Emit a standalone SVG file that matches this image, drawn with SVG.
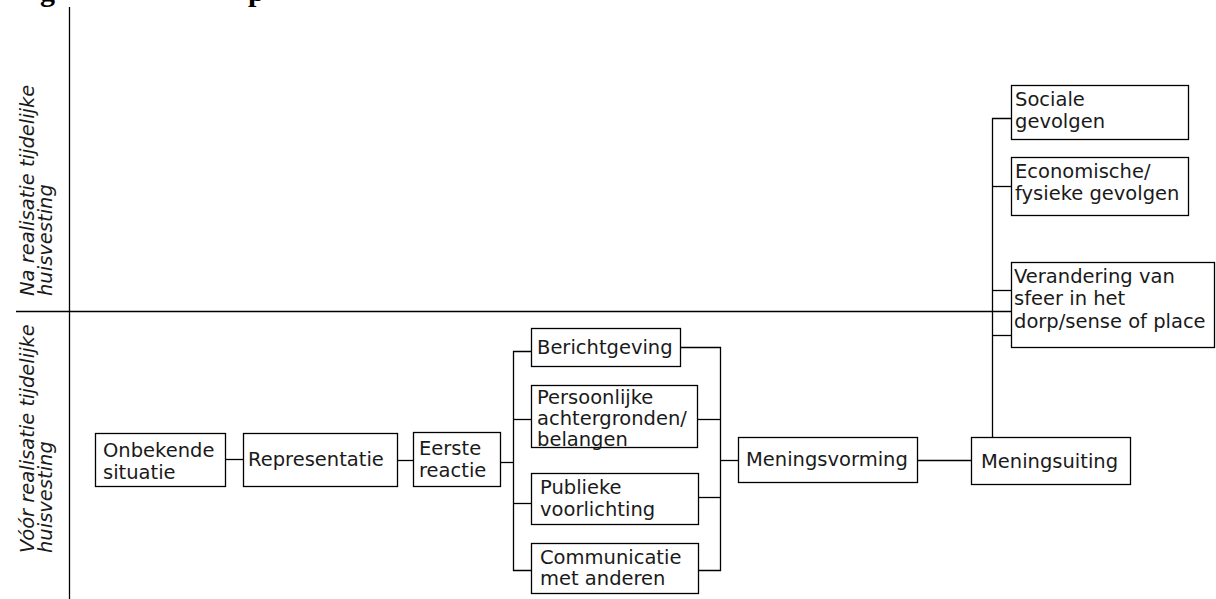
<svg xmlns="http://www.w3.org/2000/svg" width="1216" height="599" viewBox="0 0 1216 599">
<style>
.box{fill:#fff;stroke:#000;stroke-width:1.3}
.t{font-family:"DejaVu Sans",Verdana,sans-serif;font-size:19.5px;fill:#1a1a1a}
.lbl{font-family:"DejaVu Sans",Verdana,sans-serif;font-size:19.5px;font-style:italic;fill:#1a1a1a}
.ln{fill:none;stroke:#000;stroke-width:1.3}
.ttl{font-family:"Liberation Serif",serif;font-weight:bold;font-size:30px;fill:#000}
</style>
<rect width="1216" height="599" fill="#fff"/>
<text class="ttl" x="40" y="1">g</text>
<text class="ttl" x="248" y="1">p</text>
<g id="axes" class="ln">
<line x1="69.5" y1="7" x2="69.5" y2="599"/>
<line x1="16" y1="311.5" x2="1011" y2="311.5"/>
</g>
<g id="label-na">
<text class="lbl" transform="translate(34,296) rotate(-90)">Na realisatie tijdelijke</text>
<text class="lbl" transform="translate(52,296) rotate(-90)">huisvesting</text>
</g>
<g id="label-voor">
<text class="lbl" transform="translate(34,553) rotate(-90)">Vóór realisatie tijdelijke</text>
<text class="lbl" transform="translate(52,553) rotate(-90)">huisvesting</text>
</g>
<g id="connectors" class="ln">
<polyline points="225,459.5 243,459.5"/>
<polyline points="397,460.5 413,460.5"/>
<polyline points="500,462.5 513.5,462.5"/>
<polyline points="531,351.5 513.5,351.5 513.5,570.5 531,570.5"/>
<polyline points="513.5,419.5 531,419.5"/>
<polyline points="513.5,503.5 531,503.5"/>
<polyline points="680,347.5 720.5,347.5 720.5,570.5 698,570.5"/>
<polyline points="697,419.5 720.5,419.5"/>
<polyline points="698,497.5 720.5,497.5"/>
<polyline points="720.5,460.5 738,460.5"/>
<polyline points="917,460.5 971,460.5"/>
<polyline points="992.5,437 992.5,118.5 1011,118.5"/>
<polyline points="992.5,186.5 1011,186.5"/>
<polyline points="992.5,290.5 1011,290.5"/>
<polyline points="992.5,335.5 1011,335.5"/>
</g>
<g id="onbekende">
<rect class="box" x="95.5" y="433.5" width="130" height="53"/>
<text class="t" x="103" y="457">Onbekende</text>
<text class="t" x="103" y="479">situatie</text>
</g>
<g id="representatie">
<rect class="box" x="243.5" y="433.5" width="154" height="53"/>
<text class="t" x="248" y="466">Representatie</text>
</g>
<g id="eerste">
<rect class="box" x="413.5" y="432.5" width="87" height="54"/>
<text class="t" x="419" y="455">Eerste</text>
<text class="t" x="419" y="477">reactie</text>
</g>
<g id="berichtgeving">
<rect class="box" x="531.5" y="328.5" width="149" height="38"/>
<text class="t" x="537" y="354">Berichtgeving</text>
</g>
<g id="persoonlijke">
<rect class="box" x="531.5" y="385.5" width="166" height="62"/>
<text class="t" x="537" y="404">Persoonlijke</text>
<text class="t" x="537" y="425">achtergronden/</text>
<text class="t" x="537" y="446">belangen</text>
</g>
<g id="publieke">
<rect class="box" x="531.5" y="473.5" width="167" height="51"/>
<text class="t" x="540" y="494">Publieke</text>
<text class="t" x="540" y="516">voorlichting</text>
</g>
<g id="communicatie">
<rect class="box" x="531.5" y="543.5" width="167" height="50"/>
<text class="t" x="540" y="564">Communicatie</text>
<text class="t" x="540" y="585">met anderen</text>
</g>
<g id="meningsvorming">
<rect class="box" x="738.5" y="437.5" width="179" height="45"/>
<text class="t" x="746" y="466">Meningsvorming</text>
</g>
<g id="meningsuiting">
<rect class="box" x="971.5" y="437.5" width="159" height="47"/>
<text class="t" x="981" y="468">Meningsuiting</text>
</g>
<g id="sociale">
<rect class="box" x="1011.5" y="85.5" width="177" height="54"/>
<text class="t" x="1015" y="106">Sociale</text>
<text class="t" x="1015" y="128">gevolgen</text>
</g>
<g id="economische">
<rect class="box" x="1011.5" y="157.5" width="177" height="58"/>
<text class="t" x="1015" y="178">Economische/</text>
<text class="t" x="1015" y="200">fysieke gevolgen</text>
</g>
<g id="verandering">
<rect class="box" x="1011.5" y="262.5" width="203" height="85"/>
<text class="t" x="1014" y="283">Verandering van</text>
<text class="t" x="1014" y="305">sfeer in het</text>
<text class="t" x="1014" y="328">dorp/sense of place</text>
</g>
</svg>
